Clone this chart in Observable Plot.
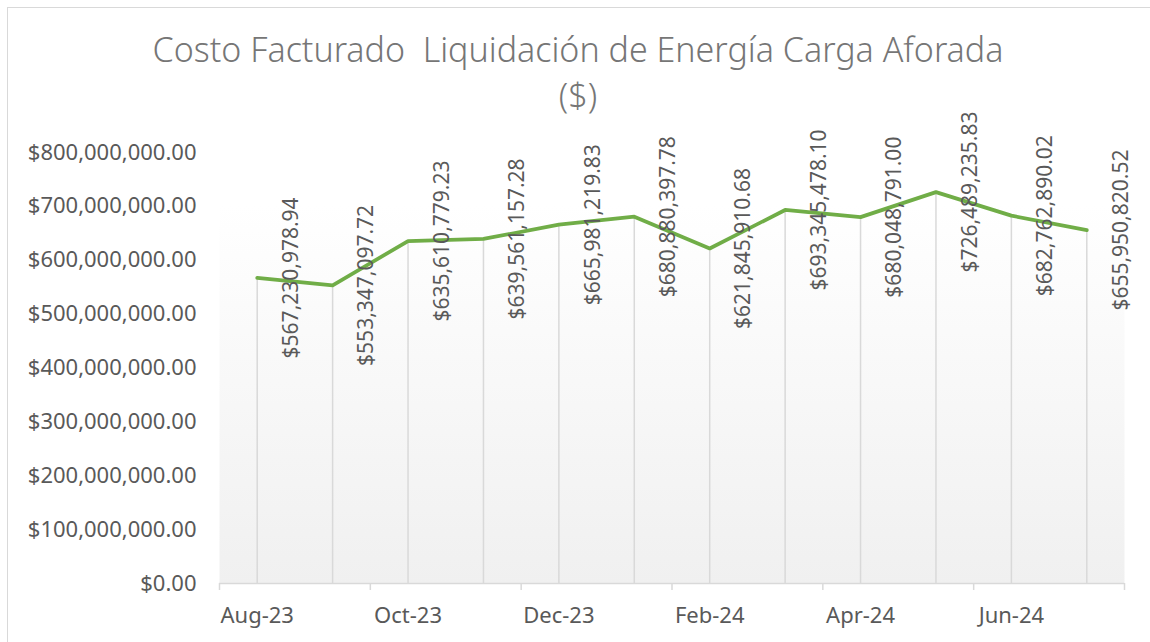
<!DOCTYPE html>
<html>
<head>
<meta charset="utf-8">
<script src="https://cdn.jsdelivr.net/npm/d3@7"></script>
<script src="https://cdn.jsdelivr.net/npm/@observablehq/plot@0.6"></script>
<style>
  html, body { margin: 0; padding: 0; background: #fff; }
  #page { position: relative; width: 1150px; height: 642px; overflow: hidden; font-family: "Noto Sans", "Open Sans", sans-serif; }
  #frame { position: absolute; left: 7px; top: 7px; width: 1200px; height: 700px; border-left: 1px solid #d9d9d9; border-top: 1px solid #d9d9d9; }
  #title { position: absolute; left: 0; top: 26px; width: 1156px; text-align: center; font-size: 34px; font-weight: 300; line-height: 46px; color: #767676; white-space: pre; }
  #chart { position: absolute; left: 0; top: 80px; }
</style>
</head>
<body>
<div id="page">
  <div id="frame"></div>
  <div id="title">Costo Facturado  Liquidación de Energía Carga Aforada<br>($)</div>
  <div id="chart"></div>
</div>
<script>
const months = ["Aug-23","Sep-23","Oct-23","Nov-23","Dec-23","Jan-24","Feb-24","Mar-24","Apr-24","May-24","Jun-24","Jul-24"];
const costs = [567230978.94, 553347097.72, 635610779.23, 639561157.28, 665981219.83, 680880397.78, 621845910.68, 693345478.10, 680048791.00, 726489235.83, 682762890.02, 655950820.52];
const yTicks = [0, 100e6, 200e6, 300e6, 400e6, 500e6, 600e6, 700e6, 800e6];
const labelIdx = [0, 2, 4, 6, 8, 10];
const tickIdx = [-0.5, 1.5, 3.5, 5.5, 7.5, 9.5, 11.5];

const data = months.map((m, i) => ({i, m, v: costs[i]}));
const fmt = d3.format("$,.2f");

const svg = Plot.plot({
  width: 1150,
  height: 562,
  marginLeft: 219,
  marginRight: 26,
  marginTop: 72,
  marginBottom: 59,
  x: {type: "linear", domain: [-0.5, 11.5], label: null},
  y: {domain: [0, 800e6], label: null},
  style: {fontFamily: "'Noto Sans', 'Open Sans', sans-serif", fontSize: "22px", color: "#595959", background: "transparent"},
  marks: [
    Plot.frame({fill: "url(#plotGrad)", stroke: null}),
    Plot.ruleX(data, {x: "i", y1: 0, y2: "v", stroke: "#d9d9d9", strokeWidth: 1.5}),
    Plot.ruleY([0], {stroke: "#d9d9d9", strokeWidth: 1.5}),
    Plot.axisX(tickIdx, {tickSize: 7, tickFormat: () => "", stroke: "#d9d9d9", strokeWidth: 1.5, label: null}),
    Plot.axisX(labelIdx, {tickSize: 0, tickPadding: 24, tickFormat: i => months[i], fill: "#595959", label: null}),
    Plot.axisY(yTicks, {tickSize: 0, tickPadding: 23, tickFormat: fmt, fill: "#595959", label: null}),
    Plot.lineY(data, {x: "i", y: "v", stroke: "#70ad47", strokeWidth: 3.75, strokeLinejoin: "round", strokeLinecap: "round"}),
    Plot.text(data, {x: "i", y: "v", text: d => fmt(d.v), rotate: -90, dx: 34, fill: "#595959", fontSize: 21})
  ]
});

const defs = d3.select(svg).insert("defs", ":first-child");
const g = defs.append("linearGradient").attr("id", "plotGrad").attr("x1", 0).attr("y1", 0).attr("x2", 0).attr("y2", 1);
g.append("stop").attr("offset", "0%").attr("stop-color", "#ffffff");
g.append("stop").attr("offset", "12%").attr("stop-color", "#ffffff");
g.append("stop").attr("offset", "100%").attr("stop-color", "#f0f0f0");

document.getElementById("chart").appendChild(svg);
</script>
</body>
</html>
